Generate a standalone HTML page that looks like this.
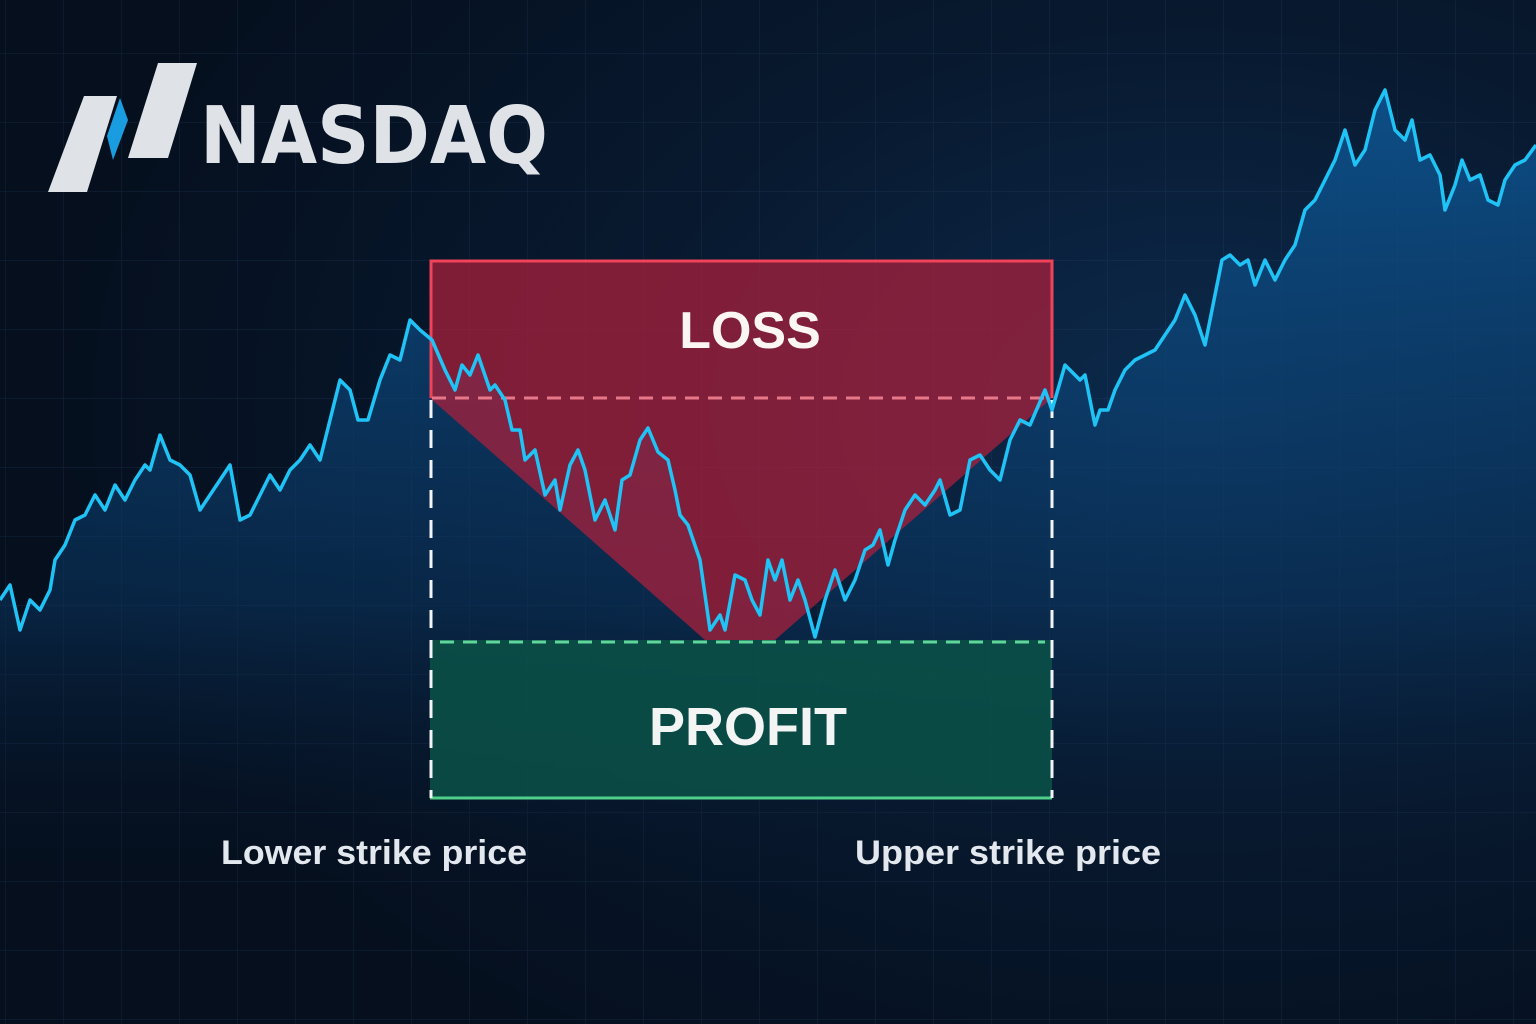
<!DOCTYPE html>
<html><head><meta charset="utf-8"><style>
html,body{margin:0;padding:0;background:#061428;}
svg{display:block}
</style></head><body>
<svg width="1536" height="1024" viewBox="0 0 1536 1024" xmlns="http://www.w3.org/2000/svg">
<defs>
<radialGradient id="bg" cx="0.78" cy="0.4" r="0.75">
<stop offset="0" stop-color="#0c2a4c"/><stop offset="0.5" stop-color="#08192f"/><stop offset="1" stop-color="#050f1e"/>
</radialGradient>
<linearGradient id="area" x1="0" y1="0" x2="0" y2="1">
<stop offset="0" stop-color="#0e5490" stop-opacity="0.9"/><stop offset="0.55" stop-color="#0a3560" stop-opacity="0.55"/><stop offset="0.85" stop-color="#08162a" stop-opacity="0"/>
</linearGradient>
<pattern id="grid" width="58" height="69" patternUnits="userSpaceOnUse" x="5" y="53">
<path d="M0 0H58M0 0V69" stroke="#2a4a6e" stroke-opacity="0.25" stroke-width="1.5" fill="none"/>
</pattern>
</defs>
<rect width="1536" height="1024" fill="url(#bg)"/>
<rect width="1536" height="1024" fill="url(#grid)"/>
<polygon fill="url(#area)" points="0,1024 0,600 10,585 20,630 30,600 40,610 50,590 55,560 65,545 75,520 85,515 95,495 105,510 115,485 125,500 135,480 145,465 150,470 160,435 170,460 180,465 190,475 200,510 210,495 220,480 230,465 240,520 250,515 260,495 270,475 280,490 290,470 300,460 310,445 320,460 330,420 340,380 350,390 358,420 368,420 380,380 390,355 400,360 410,320 420,330 432,340 445,370 455,390 462,365 470,375 478,355 490,390 495,385 505,400 512,430 520,430 525,460 535,450 545,495 555,480 560,510 570,465 578,450 585,470 595,520 605,500 615,530 622,480 630,475 640,440 648,428 658,452 668,460 675,490 680,515 688,525 700,560 710,630 720,615 725,630 735,575 745,580 752,600 760,615 768,560 775,580 782,560 790,600 798,580 805,600 815,637 825,600 835,570 845,600 855,580 865,550 873,545 880,530 888,565 895,540 905,510 915,495 925,505 935,490 940,480 950,515 960,510 970,460 980,455 990,470 1000,480 1010,440 1020,420 1030,425 1045,390 1052,410 1065,365 1080,380 1085,375 1095,425 1100,410 1108,410 1115,390 1125,370 1135,360 1145,355 1155,350 1165,335 1175,320 1185,295 1195,315 1205,345 1215,295 1222,260 1230,255 1240,265 1248,260 1255,285 1265,260 1275,280 1285,260 1295,245 1305,210 1315,200 1325,180 1335,160 1345,130 1355,165 1365,150 1375,110 1385,90 1395,130 1405,140 1412,120 1420,160 1430,155 1440,175 1445,210 1455,185 1462,160 1470,180 1480,175 1488,200 1498,205 1505,180 1515,165 1525,160 1536,145 1536,1024"/>
<path d="M430,261 H1052 V398 L775,640 H705 L430,398 Z" fill="#a8203c" fill-opacity="0.75"/>
<path d="M431,398 V261 H1052 V398" fill="none" stroke="#f0435a" stroke-width="3"/>
<line x1="432" y1="398" x2="1050" y2="398" stroke="#e7788a" stroke-width="3" stroke-dasharray="14,9"/>
<rect x="430" y="640" width="622" height="158" fill="#0b5248" fill-opacity="0.85"/>
<line x1="430" y1="798" x2="1052" y2="798" stroke="#4fd08a" stroke-width="3"/>
<line x1="440" y1="642" x2="1045" y2="642" stroke="#5fd69a" stroke-width="3" stroke-dasharray="14,9"/>
<line x1="431" y1="400" x2="431" y2="798" stroke="#f2f4f7" stroke-width="3" stroke-dasharray="18,12"/>
<line x1="1052" y1="400" x2="1052" y2="798" stroke="#f2f4f7" stroke-width="3" stroke-dasharray="18,12"/>
<polyline fill="none" stroke="#1fc3f5" stroke-width="3.5" stroke-linejoin="round" points="0,600 10,585 20,630 30,600 40,610 50,590 55,560 65,545 75,520 85,515 95,495 105,510 115,485 125,500 135,480 145,465 150,470 160,435 170,460 180,465 190,475 200,510 210,495 220,480 230,465 240,520 250,515 260,495 270,475 280,490 290,470 300,460 310,445 320,460 330,420 340,380 350,390 358,420 368,420 380,380 390,355 400,360 410,320 420,330 432,340 445,370 455,390 462,365 470,375 478,355 490,390 495,385 505,400 512,430 520,430 525,460 535,450 545,495 555,480 560,510 570,465 578,450 585,470 595,520 605,500 615,530 622,480 630,475 640,440 648,428 658,452 668,460 675,490 680,515 688,525 700,560 710,630 720,615 725,630 735,575 745,580 752,600 760,615 768,560 775,580 782,560 790,600 798,580 805,600 815,637 825,600 835,570 845,600 855,580 865,550 873,545 880,530 888,565 895,540 905,510 915,495 925,505 935,490 940,480 950,515 960,510 970,460 980,455 990,470 1000,480 1010,440 1020,420 1030,425 1045,390 1052,410 1065,365 1080,380 1085,375 1095,425 1100,410 1108,410 1115,390 1125,370 1135,360 1145,355 1155,350 1165,335 1175,320 1185,295 1195,315 1205,345 1215,295 1222,260 1230,255 1240,265 1248,260 1255,285 1265,260 1275,280 1285,260 1295,245 1305,210 1315,200 1325,180 1335,160 1345,130 1355,165 1365,150 1375,110 1385,90 1395,130 1405,140 1412,120 1420,160 1430,155 1440,175 1445,210 1455,185 1462,160 1470,180 1480,175 1488,200 1498,205 1505,180 1515,165 1525,160 1536,145"/>
<text x="750" y="348" text-anchor="middle" font-family="Liberation Sans, sans-serif" font-weight="bold" font-size="52" fill="#fbf6f4">LOSS</text>
<text x="748" y="745" text-anchor="middle" font-family="Liberation Sans, sans-serif" font-weight="bold" font-size="54" fill="#f3f5f4">PROFIT</text>
<text x="374" y="864" text-anchor="middle" font-family="Liberation Sans, sans-serif" font-weight="bold" font-size="34" fill="#e3e8ee" textLength="306" lengthAdjust="spacingAndGlyphs">Lower strike price</text>
<text x="1008" y="864" text-anchor="middle" font-family="Liberation Sans, sans-serif" font-weight="bold" font-size="34" fill="#e3e8ee" textLength="306" lengthAdjust="spacingAndGlyphs">Upper strike price</text>
<path d="M84,96 L117,96 L87,192 L48,192 Z" fill="#dfe2e6"/>
<path d="M158,63 L197,63 L168,158 L128,158 Z" fill="#dfe2e6"/>
<path d="M120,98 L107,136 L113,160 L128,120 Z" fill="#1a9de0"/>
<text x="200" y="163" font-family="DejaVu Sans, Liberation Sans, sans-serif" font-weight="bold" font-size="79" fill="#dfe2e6" textLength="348" lengthAdjust="spacingAndGlyphs">NASDAQ</text>
</svg>
</body></html>
